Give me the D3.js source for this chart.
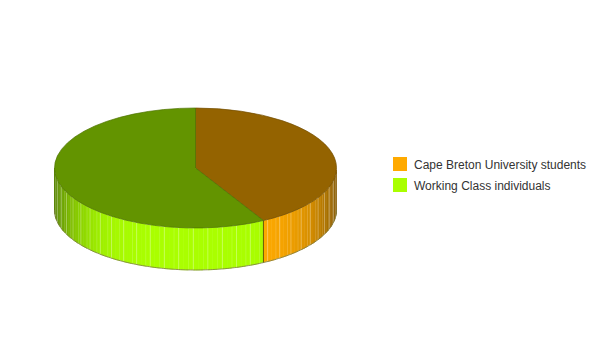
<!DOCTYPE html>
<html>
<head>
<meta charset="utf-8">
<script src="https://cdn.jsdelivr.net/npm/d3@7"></script>
<style>
  body { margin: 0; background: #fff; }
  svg { display: block; }
</style>
</head>
<body>
<svg class="chart"></svg>
<script>
// datos del grafico
var categorias = ["Cape Breton University students", "Working Class individuals"];
var valores = [42, 58];
var colores = ["#ffaa00", "#aaff00"];

var w = 604, h = 348;
var cx = 195.5, cy = 168, rx = 141, ry = 60, depth = 42;

var svg = d3.select(".chart").attr("width", w).attr("height", h);

var pie = d3.pie().sort(null).value(function(d) { return d; });
var slices = pie(valores);

// punto sobre la elipse, angulo desde las 12 en sentido horario
function pt(a, dy) {
  return [cx + rx * Math.sin(a), cy - ry * Math.cos(a) + (dy || 0)];
}

function shade(c, f) {
  var k = d3.rgb(c);
  return d3.rgb(k.r * f, k.g * f, k.b * f).formatHex();
}

// caras laterales
var lados = svg.append("g");
var paso = Math.PI / 90;
slices.forEach(function(s, i) {
  var a0 = Math.max(s.startAngle, Math.PI / 2);
  var a1 = Math.min(s.endAngle, 3 * Math.PI / 2);
  if (a1 <= a0) return;
  var n = Math.ceil((a1 - a0) / paso);
  var facetas = d3.range(n).map(function(j) {
    return [a0 + (a1 - a0) * j / n, a0 + (a1 - a0) * (j + 1) / n];
  });
  lados.selectAll(".f" + i)
    .data(facetas)
    .enter()
    .append("path")
    .attr("class", "f" + i)
    .attr("d", function(f) {
      var p = [pt(f[0]), pt(f[1]), pt(f[1], depth), pt(f[0], depth)];
      return "M" + p.join("L") + "Z";
    })
    .attr("fill", function(f) {
      var m = Math.abs(Math.sin((f[0] + f[1]) / 2));
      return shade(colores[i], 1 - 0.48 * Math.pow(m, 5));
    })
    .attr("stroke", function(f, j) {
      var m = Math.abs(Math.sin((f[0] + f[1]) / 2));
      return j % 3 === 0 ? "#fff" : shade(colores[i], 1 - 0.48 * Math.pow(m, 5));
    })
    .attr("stroke-opacity", function(f, j) { return j % 3 === 0 ? 0.45 : 1; })
    .attr("stroke-width", 0.6);
  // arista vertical del corte
  [s.startAngle, s.endAngle].forEach(function(a) {
    if (a > Math.PI / 2 && a < 3 * Math.PI / 2) {
      lados.append("line")
        .attr("x1", pt(a)[0]).attr("y1", pt(a)[1])
        .attr("x2", pt(a, depth)[0]).attr("y2", pt(a, depth)[1])
        .attr("stroke", "#6b5a00").attr("stroke-width", 1);
    }
  });
});

// borde inferior
var borde = d3.range(0, 181).map(function(j) {
  return pt(Math.PI / 2 + Math.PI * j / 180, depth);
});
lados.append("path")
  .attr("d", d3.line()(borde))
  .attr("fill", "none")
  .attr("stroke", "#7a7a40")
  .attr("stroke-width", 0.8);

// cara superior
var arco = d3.arc().innerRadius(0).outerRadius(rx);
svg.append("g")
  .attr("transform", "translate(" + cx + "," + cy + ") scale(1," + (ry / rx) + ")")
  .selectAll(".tapa")
  .data(slices)
  .enter()
  .append("path")
  .attr("class", "tapa")
  .attr("d", arco)
  .attr("fill", function(d, i) { return shade(colores[i], 0.58); })
  .attr("stroke", function(d, i) { return shade(colores[i], 0.45); })
  .attr("stroke-width", 0.7)
  .attr("vector-effect", "non-scaling-stroke");

// leyenda
var leyenda = svg.append("g")
  .attr("transform", "translate(393,157)")
  .selectAll(".item")
  .data(categorias)
  .enter()
  .append("g")
  .attr("class", "item")
  .attr("transform", function(d, i) { return "translate(0," + i * 21 + ")"; });

leyenda.append("rect")
  .attr("width", 14).attr("height", 14)
  .attr("fill", function(d, i) { return colores[i]; });

leyenda.append("text")
  .attr("x", 21).attr("y", 11.5)
  .attr("font-family", "Liberation Sans, Arial, sans-serif")
  .attr("font-size", 12)
  .attr("fill", "#333")
  .text(function(d) { return d; });
</script>
</body>
</html>
